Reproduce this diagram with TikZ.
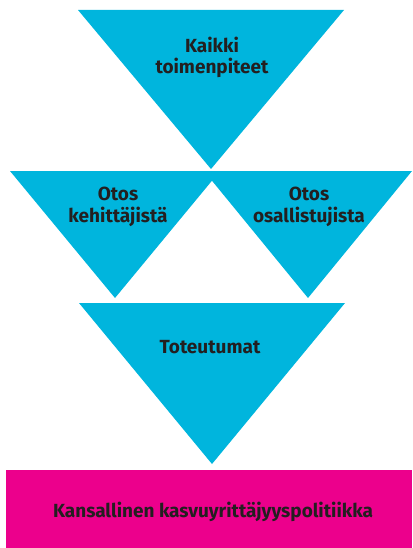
\documentclass[tikz,border=0pt]{standalone}
\usepackage{fontspec}
\setmainfont{Fira Sans}
\definecolor{tricyan}{HTML}{00B5DD}
\definecolor{barmag}{HTML}{EC008C}
\definecolor{txtdark}{HTML}{231F20}
\begin{document}
\begin{tikzpicture}[x=1pt,y=-1pt,
  tri/.style={fill=tricyan,draw=none},
  lbl/.style={font=\fontsize{19}{22}\selectfont\bfseries,text=txtdark,inner sep=0pt,anchor=base}]
\useasboundingbox (0,0) rectangle (412,548);
% triangles
\fill[tri] (78,10) -- (344,10) -- (211,169) -- cycle;
\fill[tri] (10,171) -- (220,171) -- (115,298) -- cycle;
\fill[tri] (204,171) -- (412,171) -- (308,298) -- cycle;
\fill[tri] (79,303) -- (345,303) -- (212,464) -- cycle;
% bar
\fill[barmag] (6,470) rectangle (412,548);
% labels
\node[lbl] (kaikki) at (212,53) {Kaikki};
\node[lbl] (toimen) at (212,74) {toimenpiteet};
\node[lbl] (otos1) at (118,200) {Otos};
\node[lbl] (kehit) at (118,222) {kehittäjistä};
\node[lbl] (otos2) at (309,200) {Otos};
\node[lbl] (osall) at (309,222) {osallistujista};
\node[lbl] (toteu) at (210,353) {Toteutumat};
\node[lbl] (kansa) at (213,517) {Kansallinen kasvuyrittäjyyspolitiikka};
\end{tikzpicture}
\end{document}
